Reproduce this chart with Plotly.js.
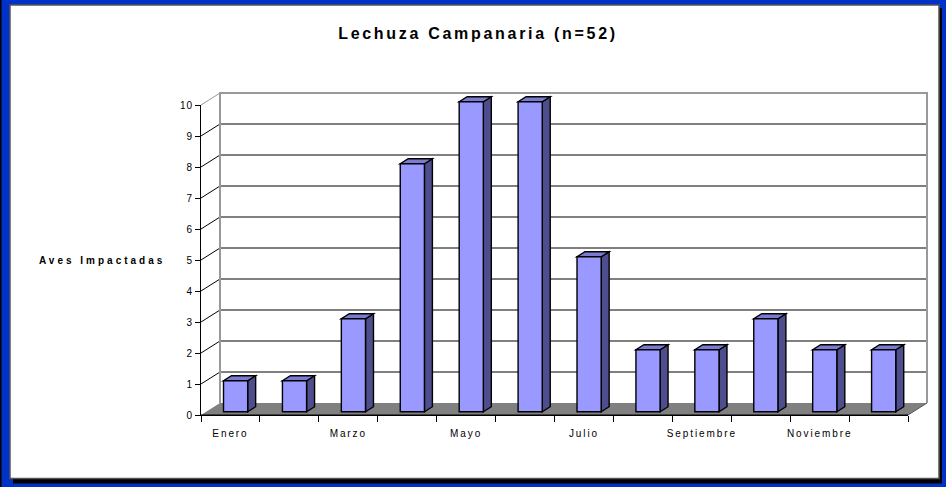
<!DOCTYPE html>
<html><head><meta charset="utf-8">
<script src="https://cdn.plot.ly/plotly-3.0.1.min.js"></script>
<style>
html,body{margin:0;padding:0;background:#0032c8;}
#chart{width:946px;height:487px;}
.gtitle{letter-spacing:2.7px;}
.xtick text{letter-spacing:1.9px;}
.ytick text{letter-spacing:1px;}
.annotation-text{letter-spacing:3px;}
</style></head><body><div id="chart"></div>
<script>
// ---- data ----
const months = ['Enero','Febrero','Marzo','Abril','Mayo','Junio','Julio','Agosto','Septiembre','Octubre','Noviembre','Diciembre'];
const birds = [1, 1, 3, 8, 10, 10, 5, 2, 2, 3, 2, 2];
const yTicks = [0,1,2,3,4,5,6,7,8,9,10];
const chartTitle = 'Lechuza Campanaria (n=52)';
const yTitle = 'Aves Impactadas';

// ---- geometry (pixels of the page) ----
const W = 946, H = 487;
const frontLeft = 201, frontRight = 908, frontBottom = 415, frontTop = 105;
const depthX = 19, depthY = 12;
const n = months.length;
const yMax = yTicks[yTicks.length-1];
const sx = (frontRight-frontLeft)/n, sy = (frontBottom-frontTop)/yMax;
const oxu = depthX/sx, oyu = depthY/sy;
const d0 = 0.27, dd = 0.42, barW = 0.41;
const fx = p => p/W, fy = p => 1 - p/H;
const xr = [-0.5 - frontLeft/sx, -0.5 + (W-frontLeft)/sx];
const yr = [-(H-frontBottom)/sy, frontBottom/sy];

const shapes = [];
// chart frame
shapes.push({type:'rect',xref:'paper',yref:'paper',x0:0,x1:fx(1.5),y0:0,y1:1,fillcolor:'#000',line:{width:0},layer:'below'});
shapes.push({type:'rect',xref:'paper',yref:'paper',x0:fx(13),x1:fx(942),y0:fy(483.5),y1:fy(8),fillcolor:'#000',line:{width:0},layer:'below'});
shapes.push({type:'rect',xref:'paper',yref:'paper',x0:fx(10),x1:fx(939),y0:fy(478.5),y1:fy(5),fillcolor:'#fff',line:{color:'#555',width:1.5},layer:'below'});

const W2 = {xref:'x2', yref:'y2', layer:'below'};
const L = -0.5, R = n - 0.5;
// back wall grid lines and diagonals
yTicks.forEach(k => {
  if (k > 0 && k < yMax) {
    shapes.push(Object.assign({type:'line', x0:L+oxu, x1:R+oxu, y0:k+oyu, y1:k+oyu, line:{color:'#000',width:1}}, W2));
  }
  if (k > 0) {
    shapes.push(Object.assign({type:'line', x0:L, x1:L+oxu, y0:k, y1:k+oyu, line:{color: k===yMax ? '#999' : '#000', width:1}}, W2));
  }
});
// wall edges (gray)
shapes.push(Object.assign({type:'path', path:`M ${L+oxu},${oyu} L ${L+oxu},${yMax+oyu} L ${R+oxu},${yMax+oyu} L ${R+oxu},${oyu}`, line:{color:'#999',width:2}}, W2));
// floor
shapes.push(Object.assign({type:'path', path:`M ${L},0 L ${R},0 L ${R+oxu},${oyu} L ${L+oxu},${oyu} Z`, fillcolor:'#808080', line:{width:0}}, W2));
shapes.push(Object.assign({type:'line', x0:R, x1:R+oxu, y0:0, y1:oyu, line:{color:'#555',width:1}}, W2));
shapes.push(Object.assign({type:'line', x0:L, x1:R, y0:0, y1:0, line:{color:'#000',width:1}}, W2));
// bar sides and tops
const bx = d0*oxu, by = d0*oyu, ddx = dd*oxu, ddy = dd*oyu;
birds.forEach((v, i) => {
  const xl = i - barW/2 + bx, xrt = i + barW/2 + bx, b = by, t = by + v;
  shapes.push(Object.assign({type:'path', path:`M ${xrt},${b} L ${xrt},${t} L ${xrt+ddx},${t+ddy} L ${xrt+ddx},${b+ddy} Z`, fillcolor:'#4e4e8e', line:{color:'#000',width:1.4}}, W2));
  shapes.push(Object.assign({type:'path', path:`M ${xl},${t} L ${xrt},${t} L ${xrt+ddx},${t+ddy} L ${xl+ddx},${t+ddy} Z`, fillcolor:'#7b7bd1', line:{color:'#000',width:1.4}}, W2));
});

const font = 'Liberation Sans, Arial, sans-serif';
const data = [
  {type:'scatter', x:[], y:[], xaxis:'x', yaxis:'y', hoverinfo:'skip', showlegend:false},
  {type:'bar', x: months, y: birds, base: by, width: barW, offset: -barW/2 + bx,
   xaxis:'x2', yaxis:'y2', marker:{color:'#9999ff', line:{color:'#000', width:1.4}}, hoverinfo:'skip', showlegend:false}
];

const labelIdx = months.map((m,i)=>i).filter(i => i % 2 === 0);
const boundaries = months.map((m,i)=>i-0.5).concat([n-0.5]);

const layout = {
  width: W, height: H, autosize:false,
  margin:{l:0,r:0,t:0,b:0},
  paper_bgcolor:'#0032c8', plot_bgcolor:'rgba(0,0,0,0)',
  showlegend:false,
  title:{text: chartTitle, font:{family:font, size:16, color:'#000', weight:'bold'}, x: fx(478), xanchor:'center', xref:'paper', y: fy(33), yanchor:'middle', yref:'paper'},
  xaxis:{domain:[fx(frontLeft), fx(frontRight)], anchor:'y', range:[L, R], type:'linear',
    showline:true, linecolor:'#000', linewidth:1, showgrid:false, zeroline:false,
    ticks:'outside', ticklen:9, tickcolor:'rgba(0,0,0,0)',
    tickmode:'array', tickvals: labelIdx, ticktext: labelIdx.map(i => months[i]),
    tickfont:{family:font, size:10, color:'#000'},
    minor:{ticks:'outside', ticklen:6, tickcolor:'#000', tickwidth:1, tickmode:'array', tickvals: boundaries, showgrid:false},
    fixedrange:true},
  yaxis:{domain:[fy(frontBottom), fy(frontTop)], anchor:'x', range:[0, yMax],
    showline:true, linecolor:'#000', linewidth:1, showgrid:false, zeroline:false,
    ticks:'outside', ticklen:5, tickcolor:'#000', tickmode:'array', tickvals: yTicks,
    tickfont:{family:font, size:10, color:'#000'}, fixedrange:true},
  xaxis2:{domain:[0,1], anchor:'y2', type:'category', categoryorder:'array', categoryarray: months, range: xr, visible:false, fixedrange:true},
  yaxis2:{domain:[0,1], anchor:'x2', range: yr, visible:false, fixedrange:true},
  shapes: shapes,
  annotations:[{text: yTitle, xref:'paper', yref:'paper', x: fx(37), y: fy(260), xanchor:'left', yanchor:'middle', showarrow:false,
    font:{family:font, size:10, color:'#000', weight:'bold'}}]
};
Plotly.newPlot('chart', data, layout, {staticPlot:true, displayModeBar:false});
</script></body></html>
